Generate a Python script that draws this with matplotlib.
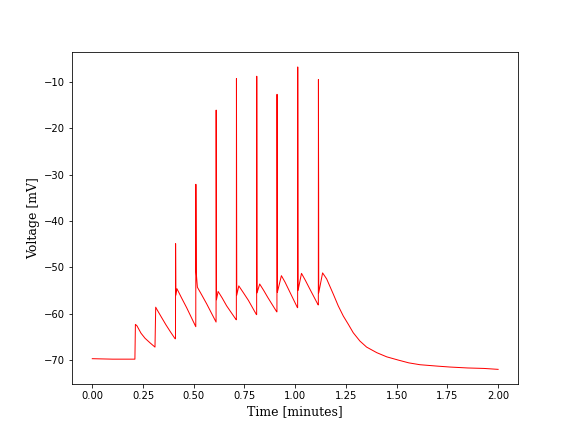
import numpy as np
import matplotlib
matplotlib.use("Agg")
import matplotlib.pyplot as plt

# breakpoints of the membrane voltage trace
time_min = [0.000, 0.100, 0.210,
            0.2125, 0.220, 0.240, 0.260, 0.285, 0.309,
            0.3125, 0.320, 0.340, 0.363, 0.385, 0.408,
            0.410, 0.4105, 0.412, 0.417, 0.440, 0.465, 0.510,
            0.510, 0.5105, 0.5115, 0.512, 0.518, 0.540, 0.564, 0.610,
            0.610, 0.6105, 0.612, 0.620, 0.640, 0.662, 0.709,
            0.710, 0.7105, 0.712, 0.722, 0.745, 0.769, 0.809,
            0.810, 0.8105, 0.8115, 0.812, 0.825, 0.845, 0.865, 0.909,
            0.910, 0.9105, 0.912, 0.932, 0.950, 0.970, 1.011,
            1.012, 1.0125, 1.014, 1.031, 1.050, 1.070, 1.113,
            1.114, 1.1145, 1.1150, 1.1155, 1.116, 1.135, 1.155, 1.188,
            1.212, 1.237, 1.262, 1.286, 1.319, 1.352, 1.402, 1.451,
            1.508, 1.560, 1.615, 1.700, 1.763, 1.850, 1.930, 2.000]
voltage_mv = [-69.7, -69.8, -69.8,
              -62.3, -62.6, -64.2, -65.3, -66.3, -67.2,
              -58.6, -59.2, -60.7, -62.4, -63.9, -65.4,
              -65.4, -44.9, -56.0, -54.6, -56.6, -58.7, -62.8,
              -62.8, -32.1, -44.5, -51.0, -54.3, -56.0, -57.9, -61.8,
              -61.8, -16.1, -57.0, -55.2, -56.6, -58.3, -61.3,
              -61.3, -9.3, -56.0, -54.0, -55.5, -57.1, -60.2,
              -60.2, -8.8, -48.5, -55.5, -53.6, -55.0, -56.5, -59.6,
              -59.6, -12.7, -55.4, -51.8, -53.2, -55.0, -58.7,
              -58.7, -6.8, -55.0, -51.3, -52.8, -54.5, -58.1,
              -58.1, -9.5, -25.0, -33.0, -55.5, -51.2, -52.5, -55.8,
              -58.3, -60.5, -62.3, -64.1, -65.9, -67.2, -68.4, -69.3,
              -70.0, -70.6, -71.0, -71.3, -71.5, -71.7, -71.8, -72.0]

fig, ax = plt.subplots(figsize=(8, 6), dpi=72)
ax.plot(np.array(time_min), np.array(voltage_mv), color="red", lw=1.0)
ax.set_xlabel("Time [minutes]", fontfamily="DejaVu Serif", fontsize=12.5)
ax.set_ylabel("Voltage [mV]", fontfamily="DejaVu Serif", fontsize=12.5)
fig.savefig("out.png", dpi=72)
